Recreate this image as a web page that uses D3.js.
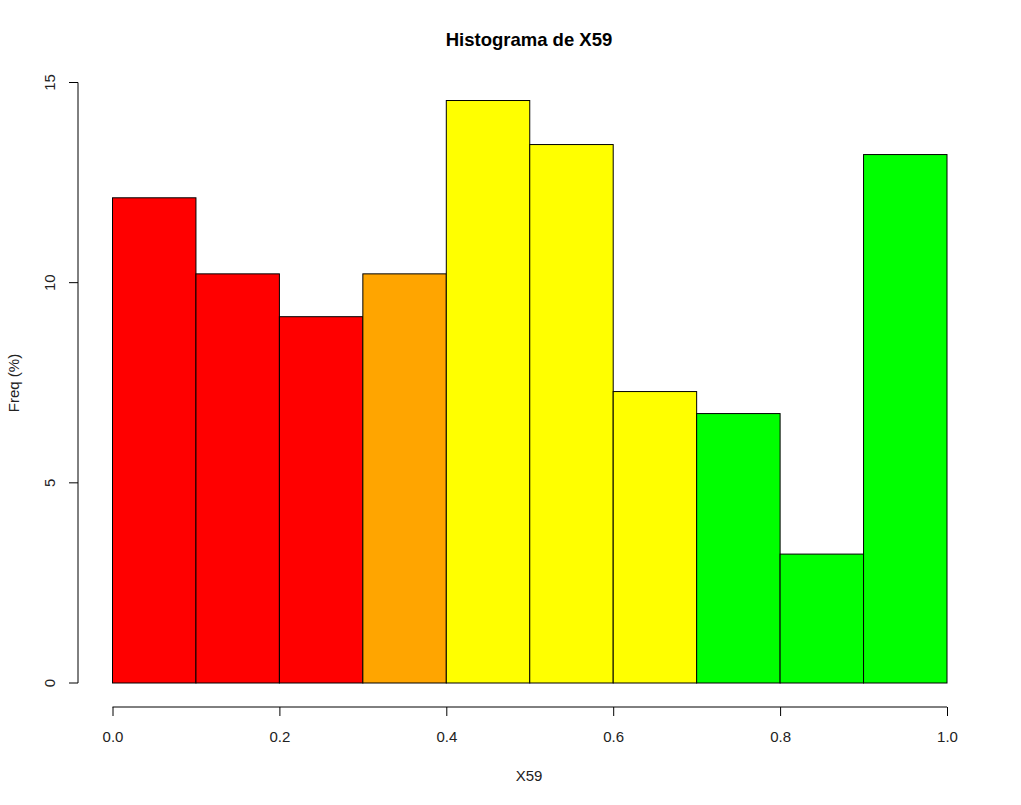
<!DOCTYPE html>
<html><head><meta charset="utf-8">
<script src="https://cdn.jsdelivr.net/npm/d3@7/dist/d3.min.js"></script>
<style>body{margin:0;background:#fff}svg{display:block}text{font-family:"Liberation Sans",Arial,sans-serif}</style>
</head><body>
<script>
const binStarts = [0.0,0.1,0.2,0.3,0.4,0.5,0.6,0.7,0.8,0.9];
const binWidth = 0.1;
const freqs = [12.12,10.22,9.15,10.22,14.55,13.45,7.28,6.73,3.22,13.2];
const colors = ["#FF0000","#FF0000","#FF0000","#FFA500","#FFFF00","#FFFF00","#FFFF00","#00FF00","#00FF00","#00FF00"];
const xTicks = [0,0.2,0.4,0.6,0.8,1.0];
const yTicks = [0,5,10,15];

const W=1021,H=805;
const svg=d3.select("body").append("svg").attr("width",W).attr("height",H);
const x=d3.scaleLinear().domain([0,1]).range([112.5,947]);
const y=d3.scaleLinear().domain([0,15]).range([683,82.5]);

svg.selectAll("rect.bar").data(binStarts).enter().append("rect")
 .attr("x",d=>x(d)).attr("width",d=>x(d+binWidth)-x(d))
 .attr("y",(d,i)=>y(freqs[i])).attr("height",(d,i)=>y(0)-y(freqs[i]))
 .attr("fill",(d,i)=>colors[i]).attr("stroke","#000").attr("stroke-width",1);

const xa=svg.append("g").attr("transform","translate(0,707)")
 .call(d3.axisBottom(x).tickValues(xTicks).tickFormat(d3.format(".1f")).tickSize(9).tickSizeOuter(0));
xa.attr("font-size",15);
xa.select(".domain").attr("d",`M${x(0)},0H${x(1)}`);
xa.selectAll("text").style("font-size","15px").attr("fill","#222").attr("dy","0").attr("y",35);

const ya=svg.append("g").attr("transform","translate(78,0)")
 .call(d3.axisLeft(y).tickValues(yTicks).tickSize(9).tickSizeOuter(0));
ya.attr("font-size",15);
ya.select(".domain").attr("d",`M0,${y(0)}V${y(15)}`);
ya.selectAll(".tick").attr("transform",null);
ya.selectAll(".tick line").attr("y1",d=>y(d)).attr("y2",d=>y(d));
ya.selectAll("text").style("font-size","15px").attr("fill","#222")
 .attr("text-anchor","middle").attr("dy","0").attr("x",0).attr("y",0)
 .attr("transform",d=>`translate(-23,${y(d)}) rotate(-90)`);

svg.append("text").attr("x",529).attr("y",46).attr("text-anchor","middle")
 .style("font-size","18.5px").attr("font-weight","bold").text("Histograma de X59");
svg.append("text").attr("x",529).attr("y",781).attr("text-anchor","middle")
 .style("font-size","15px").attr("fill","#222").text("X59");
svg.append("text").attr("transform","translate(19,383) rotate(-90)").attr("text-anchor","middle")
 .style("font-size","15px").attr("fill","#222").text("Freq (%)");
</script>
</body></html>
